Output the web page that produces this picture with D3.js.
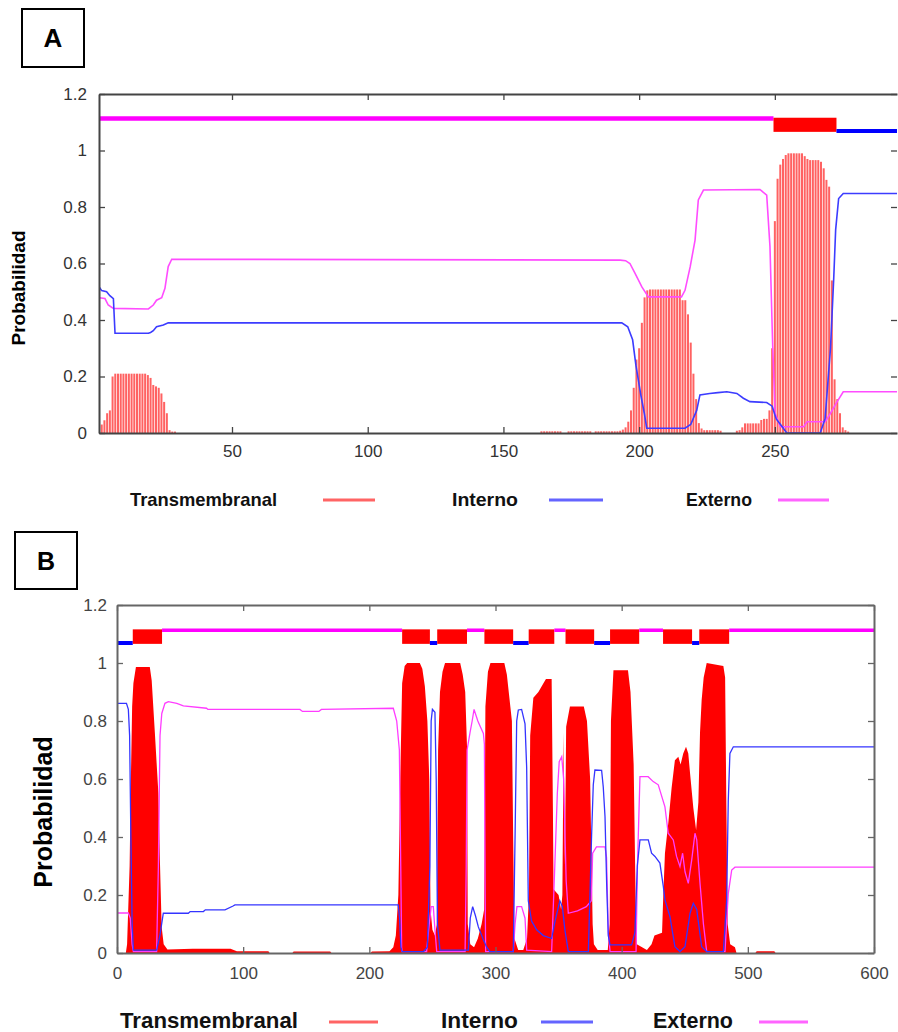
<!DOCTYPE html>
<html><head><meta charset="utf-8">
<script src="https://cdn.jsdelivr.net/npm/d3@7/dist/d3.min.js"></script>
<style>body{margin:0;background:#fff}svg{display:block}</style>
</head><body>
<script>
// ---------------- DATA ----------------
const yTicks = [0, 0.2, 0.4, 0.6, 0.8, 1, 1.2];
const yTickLabels = ["0", "0.2", "0.4", "0.6", "0.8", "1", "1.2"];
const xTicksA = [50, 100, 150, 200, 250];
const xTickLabelsA = ["50", "100", "150", "200", "250"];
const xTicksB = [0, 100, 200, 300, 400, 500, 600];
const xTickLabelsB = ["0", "100", "200", "300", "400", "500", "600"];
const legendLabels = ["Transmembranal", "Interno", "Externo"];
const panelLabels = ["A", "B"];
const yTitle = "Probabilidad";

// Panel A: transmembrane probability per residue [residue, value]
const tmA = [
[1,0.02],[2,0.03],[3,0.045],[4,0.07],[5,0.08],[6,0.2],[7,0.21],[8,0.21],[9,0.21],[10,0.21],
[11,0.21],[12,0.21],[13,0.21],[14,0.21],[15,0.21],[16,0.21],[17,0.21],[18,0.21],[19,0.205],[20,0.195],
[21,0.17],[22,0.165],[23,0.16],[24,0.14],[25,0.11],[26,0.07],[27,0.01],[28,0.005],[29,0.005],
[164,0.006],[165,0.006],[166,0.006],[167,0.006],[168,0.006],[169,0.006],[170,0.006],[171,0.006],
[174,0.006],[175,0.006],[176,0.006],[177,0.006],[178,0.006],[179,0.006],[180,0.006],[181,0.006],[182,0.006],
[184,0.006],[185,0.006],[186,0.006],[187,0.006],[188,0.006],[189,0.006],[190,0.006],[191,0.006],[192,0.006],[193,0.008],
[194,0.012],[195,0.02],[196,0.04],[197,0.08],[198,0.16],[199,0.26],[200,0.3],[201,0.39],[202,0.48],[203,0.505],
[204,0.508],[205,0.508],[206,0.508],[207,0.508],[208,0.508],[209,0.508],[210,0.508],[211,0.508],[212,0.508],
[213,0.508],[214,0.508],[215,0.508],[216,0.47],[217,0.47],[218,0.42],[219,0.32],[220,0.21],[221,0.12],[222,0.035],
[223,0.016],[224,0.01],[225,0.01],[226,0.01],[227,0.01],[228,0.01],[229,0.01],[230,0.008],
[236,0.008],[237,0.01],[238,0.02],[239,0.034],[240,0.034],[241,0.034],[242,0.034],[243,0.034],[244,0.034],
[245,0.046],[246,0.05],[247,0.05],[248,0.08],[249,0.3],[250,0.75],[251,0.9],[252,0.95],[253,0.97],[254,0.984],
[255,0.99],[256,0.99],[257,0.99],[258,0.99],[259,0.99],[260,0.99],[261,0.98],[262,0.97],[263,0.966],[264,0.966],
[265,0.966],[266,0.966],[267,0.96],[268,0.937],[269,0.896],[270,0.872],[271,0.54],[272,0.19],[273,0.12],
[274,0.07],[275,0.02],[276,0.01],[277,0.005]
];
// Panel A: inside (Interno) probability
const inA = [
[1,0.518],[2,0.504],[3.8,0.5],[5,0.486],[6.3,0.476],[6.9,0.353],[19.2,0.353],[20,0.356],[21,0.362],[22.2,0.376],
[24.7,0.382],[26.5,0.39],[193.6,0.39],[195.8,0.376],[197.6,0.33],[198.8,0.24],[200.7,0.13],[201.9,0.07],[202.8,0.017],
[216.9,0.017],[219,0.03],[221.2,0.08],[222.4,0.135],[226,0.14],[229,0.143],[232.3,0.146],[236,0.14],[238.4,0.123],
[240.8,0.111],[247,0.108],[249,0.095],[250.5,0.05],[252.5,0.025],[254.4,0.0],[266.7,0.0],[268.5,0.05],[270.5,0.3],
[271.7,0.55],[272.4,0.72],[273.5,0.83],[275.2,0.848],[295,0.848]
];
// Panel A: outside (Externo) probability
const outA = [
[1,0.479],[3.2,0.476],[4.4,0.453],[6.3,0.441],[19.2,0.439],[21,0.453],[22.2,0.47],[24.1,0.479],[25.3,0.512],
[26.5,0.589],[27.8,0.615],[193,0.612],[195,0.61],[196.6,0.6],[198.5,0.565],[201,0.517],[203.4,0.482],[215.6,0.482],
[216.9,0.505],[218.8,0.588],[220.6,0.683],[221.8,0.825],[223.7,0.86],[244.5,0.862],[247,0.842],[248.2,0.66],
[249.2,0.31],[250.1,0.07],[252,0.022],[260.6,0.022],[261.9,0.04],[268.6,0.04],[270.5,0.07],[272.9,0.11],
[275.2,0.146],[295,0.146]
];
// Panel A: predicted topology [type, start, end]
const topoA = [["out",1,249.5],["tm",249.5,272.7],["in",272.7,295]];

// Panel B
const tmB = [
[0,0],[7,0],[8,0.03],[10,0.3],[11,0.6],[12,0.85],[13,0.93],[15,0.986],[26,0.986],[27.5,0.94],[30,0.76],[32.8,0.55],
[34,0.32],[35.4,0.09],[37,0.03],[40,0.012],[60,0.015],[90,0.015],[95,0.006],[120,0.006],[121,0],[139,0],[140,0.005],
[169,0.005],[170,0],[201,0],[202,0.005],[216,0.006],[219,0.02],[221,0.06],[223,0.2],[224.5,0.6],[226,0.93],[228,0.99],
[230,1],[240,1],[242,0.98],[244,0.92],[246,0.8],[247.5,0.6],[248.5,0.15],[250,0.08],[252,0.06],[253.5,0.1],[254.5,0.7],
[256,0.9],[258,0.97],[260,1],[272,1],[274,0.96],[276,0.9],[277.5,0.7],[278,0.1],[280,0.03],[283,0.02],[286,0.05],
[289,0.1],[291,0.15],[292,0.85],[294,0.97],[296,1],[307,1],[309,0.96],[311,0.88],[313,0.8],[314,0.4],[315,0.05],
[318,0.01],[322,0.01],[325,0.05],[326.5,0.2],[327.5,0.75],[330,0.88],[334,0.9],[338,0.93],[340,0.945],[344.5,0.945],
[345.5,0.5],[346,0.22],[350,0.2],[352,0.15],[353,0.2],[354,0.76],[355,0.3],[356,0.78],[359,0.85],[370,0.85],
[372.5,0.8],[375,0.6],[377,0.1],[378,0.03],[381,0.01],[389,0.01],[390.5,0.1],[391.5,0.8],[393.5,0.975],[405,0.975],
[407,0.9],[409.5,0.65],[411,0.2],[412,0.03],[420,0.01],[423.7,0.03],[426,0.06],[432,0.07],[433,0.2],[434.3,0.344],
[437,0.45],[439.6,0.57],[442.2,0.665],[444.9,0.677],[446.7,0.65],[448.8,0.688],[451,0.711],[452.8,0.688],[454.2,0.62],
[456.8,0.5],[459,0.424],[460.8,0.52],[462.1,0.76],[463.4,0.872],[465,0.95],[467.4,1],[480.6,0.99],[482,0.95],
[483,0.5],[484,0.1],[486,0.03],[489.8,0.02],[491,0],[506,0],[507,0.006],[521,0.006],[522,0],[600,0]
];
const inB = [
[0,0.861],[7.5,0.861],[9,0.84],[10,0.75],[11,0.4],[12,0.1],[13,0.01],[31.4,0.01],[34,0.06],[36.7,0.137],[56.5,0.137],
[58,0.143],[68.5,0.143],[70,0.149],[85.6,0.149],[92,0.162],[93.5,0.166],[222.9,0.166],[224,0.12],[225,0.02],
[226,0.005],[243,0.005],[246,0.02],[248,0.3],[249,0.8],[250,0.84],[252,0.83],[253,0.6],[254,0.1],[256,0.01],
[278.5,0.01],[280,0.12],[281.9,0.16],[284,0.13],[286.4,0.09],[290,0.05],[293,0.02],[295.6,0.005],[314.1,0.005],
[315.5,0.4],[316.8,0.8],[318.1,0.838],[320.7,0.84],[323.4,0.79],[324.7,0.64],[326,0.18],[328.6,0.11],[332.6,0.08],
[337.9,0.06],[344.5,0.05],[347.2,0.11],[351,0.18],[353,0.16],[355,0.08],[357.7,0.005],[373.6,0.005],[376.2,0.41],
[377.5,0.58],[378.8,0.631],[384.1,0.63],[385.4,0.573],[386.8,0.47],[388.1,0.24],[389.4,0.06],[390.8,0.028],
[407.9,0.028],[410.5,0.07],[412.4,0.3],[414.5,0.39],[421.1,0.39],[423.7,0.344],[426.4,0.333],[430.3,0.31],[433,0.23],
[434.3,0.183],[438.3,0.125],[442.2,0.022],[446.2,0.005],[450.2,0.022],[454.2,0.137],[456.8,0.171],[459.5,0.15],
[463.4,0.022],[467.4,0.005],[480.6,0.005],[483.2,0.18],[484.5,0.527],[485.8,0.688],[488.5,0.711],[600,0.711]
];
const outB = [
[0,0.138],[9,0.138],[10.5,0.12],[12,0.03],[13,0.005],[31.4,0.005],[32.8,0.3],[33.5,0.55],[34.1,0.75],[35.5,0.826],
[38,0.861],[40.7,0.867],[47.4,0.861],[52.6,0.852],[71,0.844],[72,0.84],[145,0.84],[147,0.833],[160,0.833],[162,0.84],
[219,0.844],[221.7,0.8],[223.8,0.7],[224.9,0.3],[225.6,0.02],[226,0.005],[245.4,0.005],[247,0.08],[249,0.16],
[250.7,0.16],[252,0.08],[253.4,0.005],[275.9,0.005],[276.8,0.3],[277.5,0.7],[279.8,0.76],[281.5,0.8],[283,0.84],
[284.5,0.82],[286,0.8],[288,0.78],[290.4,0.757],[291.2,0.72],[291.8,0.2],[292.2,0.005],[314.1,0.005],[315.5,0.1],
[317,0.16],[320.7,0.16],[323.4,0.12],[324.7,0.01],[344.5,0.005],[347,0.3],[349,0.55],[350.5,0.66],[352.5,0.677],
[354,0.6],[356,0.25],[357.7,0.137],[365,0.145],[372,0.16],[376,0.18],[377,0.344],[380,0.366],[386.8,0.366],
[388,0.33],[389.4,0.07],[390.8,0.005],[411.4,0.005],[412.5,0.3],[414.5,0.608],[421,0.608],[425,0.591],[429,0.58],
[434.3,0.504],[436.9,0.413],[440.9,0.39],[443.5,0.333],[446.2,0.298],[448.3,0.344],[450.2,0.28],[452.8,0.24],
[455.5,0.32],[458.1,0.413],[459.5,0.39],[462.1,0.24],[464.8,0.1],[467.4,0.005],[481.9,0.005],[484.5,0.205],
[487.2,0.286],[489.8,0.296],[600,0.296]
];
const topoB = [
["in",0,12.5],["tm",12.5,35.7],["out",35.7,226],["tm",226,248],["in",248,253.8],["tm",253.8,277.4],
["out",277.4,291.2],["tm",291.2,314],["in",314,326.3],["tm",326.3,346.6],["out",346.6,355.5],["tm",355.5,378.2],
["in",378.2,390.8],["tm",390.8,413.9],["out",413.9,432.8],["tm",432.8,455.8],["in",455.8,461.5],["tm",461.5,485.2],
["out",485.2,600]
];
// topology track levels (probability units)
const topoLevels = {out: 1.113, in: 1.069, tmTop: 1.116, tmBottom: 1.066};

// ---------------- DRAW ----------------
const svg = d3.select("body").append("svg").attr("width", 898).attr("height", 1032);

function drawPanel(o) {
  const x = d3.scaleLinear().domain(o.xDomain).range([o.left, o.right]);
  const y = d3.scaleLinear().domain([0, 1.2]).range([o.bottom, o.top]);
  const g = svg.append("g");
  const cid = "clip" + o.id;
  svg.append("defs").append("clipPath").attr("id", cid)
    .append("rect").attr("x", o.left).attr("y", o.top)
    .attr("width", o.right - o.left).attr("height", o.bottom - o.top);
  const plot = g.append("g").attr("clip-path", `url(#${cid})`);

  if (o.tmMode === "bars") {
    plot.selectAll("rect.tm").data(o.tm).join("rect").attr("class", "tm")
      .attr("x", d => x(d[0]) - o.barW / 2).attr("width", o.barW)
      .attr("y", d => y(d[1])).attr("height", d => y(0) - y(d[1]))
      .attr("fill", o.tmColor);
  } else {
    plot.append("path").datum(o.tm)
      .attr("d", d3.area().x(d => x(d[0])).y0(y(0)).y1(d => y(d[1])))
      .attr("fill", o.tmColor);
  }
  const line = d3.line().x(d => x(d[0])).y(d => y(d[1]));
  plot.append("path").datum(o.outside).attr("d", line).attr("fill", "none")
    .attr("stroke", o.magenta).attr("stroke-width", o.lineW);
  plot.append("path").datum(o.inside).attr("d", line).attr("fill", "none")
    .attr("stroke", o.blue).attr("stroke-width", o.lineW);

  // topology track
  o.topo.forEach(s => {
    if (s[0] === "tm") {
      plot.append("rect").attr("x", x(s[1])).attr("width", x(s[2]) - x(s[1]))
        .attr("y", y(topoLevels.tmTop)).attr("height", y(topoLevels.tmBottom) - y(topoLevels.tmTop))
        .attr("fill", "#ff0000");
    } else {
      const lv = s[0] === "out" ? topoLevels.out : topoLevels.in;
      plot.append("line").attr("x1", x(s[1])).attr("x2", x(s[2]))
        .attr("y1", y(lv)).attr("y2", y(lv))
        .attr("stroke", s[0] === "out" ? "#ff00ff" : "#0000ff")
        .attr("stroke-width", s[0] === "out" ? o.outW : o.inW);
    }
  });

  // axes
  function style(ax, hideDomain) {
    ax.attr("font-size", null).attr("font-family", null);
    ax.select(".domain").attr("stroke", o.frame).attr("stroke-width", o.frameW)
      .attr("display", hideDomain ? "none" : null);
    ax.selectAll(".tick line").attr("stroke", o.frame).attr("stroke-width", 1.3);
    ax.selectAll(".tick text").attr("font-family", "'Liberation Sans', Arial, sans-serif")
      .attr("font-size", o.tickFont).attr("fill", o.tickColor);
  }
  const axB = g.append("g").attr("transform", `translate(0,${o.bottom})`)
    .call(d3.axisBottom(x).tickValues(o.xTicks).tickFormat((d, i) => o.xTickLabels[i])
      .tickSizeInner(-o.tick).tickSizeOuter(0).tickPadding(o.xPad));
  style(axB, false);
  const axT = g.append("g").attr("transform", `translate(0,${o.top})`)
    .call(d3.axisTop(x).tickValues(o.xTicks).tickFormat("").tickSizeInner(-o.tick).tickSizeOuter(0));
  style(axT, false);
  const axL = g.append("g").attr("transform", `translate(${o.left},0)`)
    .call(d3.axisLeft(y).tickValues(yTicks).tickFormat((d, i) => yTickLabels[i])
      .tickSizeInner(-o.tick).tickSizeOuter(0).tickPadding(o.yPad));
  style(axL, false);
  const axR = g.append("g").attr("transform", `translate(${o.right},0)`)
    .call(d3.axisRight(y).tickValues(yTicks).tickFormat("").tickSizeInner(-o.tick).tickSizeOuter(0));
  style(axR, !o.rightFrame);

  // y title
  g.append("text").text(yTitle)
    .attr("transform", `translate(${o.titleX},${o.titleY}) rotate(-90)`)
    .attr("text-anchor", "middle").attr("dominant-baseline", "central")
    .attr("font-family", "'Liberation Sans', Arial, sans-serif").attr("font-weight", "bold")
    .attr("font-size", o.titleFont).attr("fill", "#000");

  // panel label box
  g.append("rect").attr("x", o.box[0]).attr("y", o.box[1]).attr("width", o.box[2]).attr("height", o.box[3])
    .attr("fill", "none").attr("stroke", "#000").attr("stroke-width", 2);
  g.append("text").text(o.label)
    .attr("x", o.box[0] + o.box[2] / 2).attr("y", o.box[1] + o.box[3] / 2)
    .attr("text-anchor", "middle").attr("dominant-baseline", "central")
    .attr("font-family", "'Liberation Sans', Arial, sans-serif").attr("font-weight", "bold")
    .attr("font-size", o.labelFont).attr("fill", "#000");

  // legend
  const legColors = [o.legRed, o.legBlue, o.legMagenta];
  legendLabels.forEach((t, i) => {
    g.append("text").text(t).attr("x", o.legTextX[i]).attr("y", o.legBase)
      .attr("textLength", o.legTextW[i]).attr("lengthAdjust", "spacingAndGlyphs")
      .attr("font-family", "'Liberation Sans Narrow', 'Liberation Sans', Arial, sans-serif")
      .attr("font-weight", "bold").attr("font-size", o.legFont).attr("fill", "#111");
    g.append("line").attr("x1", o.legLineX[i][0]).attr("x2", o.legLineX[i][1])
      .attr("y1", o.legLineY).attr("y2", o.legLineY)
      .attr("stroke", legColors[i]).attr("stroke-width", 3);
  });
}

drawPanel({
  id: "A", label: panelLabels[0], xDomain: [1, 295], left: 99, right: 897, top: 94, bottom: 433,
  tm: tmA, tmMode: "bars", barW: 2, tmColor: "#ff6262",
  inside: inA, outside: outA, topo: topoA, blue: "#3c3cff", magenta: "#ff4cff", lineW: 1.6,
  outW: 4.5, inW: 4,
  xTicks: xTicksA, xTickLabels: xTickLabelsA, tick: 6, xPad: 12, yPad: 12,
  frame: "#444", frameW: 2, rightFrame: false, tickFont: 17, tickColor: "#333",
  titleX: 18, titleY: 288, titleFont: 19,
  box: [22, 9, 62, 58], labelFont: 26,
  legTextX: [130, 452, 686], legTextW: [147, 66, 66], legBase: 506, legFont: 19,
  legLineX: [[323, 375], [549, 603], [778, 829]], legLineY: 500,
  legRed: "#ff6464", legBlue: "#6464ff", legMagenta: "#ff64ff"
});

drawPanel({
  id: "B", label: panelLabels[1], xDomain: [0, 600], left: 117, right: 874, top: 605, bottom: 953,
  tm: tmB, tmMode: "area", tmColor: "#ff0000",
  inside: inB, outside: outB, topo: topoB, blue: "#3434ff", magenta: "#ff3cff", lineW: 1.3,
  outW: 3.5, inW: 4,
  xTicks: xTicksB, xTickLabels: xTickLabelsB, tick: 6, xPad: 14, yPad: 10,
  frame: "#666", frameW: 2, rightFrame: true, tickFont: 17, tickColor: "#444",
  titleX: 43, titleY: 812, titleFont: 25,
  box: [15, 532, 62, 57], labelFont: 25,
  legTextX: [120, 441, 653], legTextW: [178, 77, 80], legBase: 1028, legFont: 22,
  legLineX: [[329, 378], [541, 593], [759, 808]], legLineY: 1022,
  legRed: "#ff6464", legBlue: "#6464ff", legMagenta: "#ff64ff"
});
</script>
</body></html>
